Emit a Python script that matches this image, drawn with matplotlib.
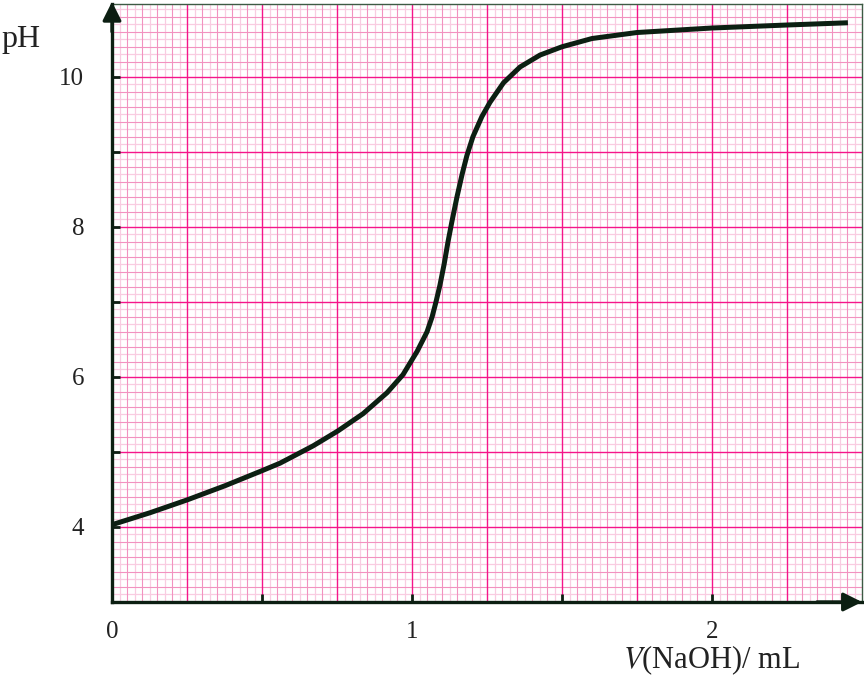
import matplotlib
matplotlib.use("Agg")
import matplotlib.pyplot as plt
import numpy as np

# ── data ──────────────────────────────────────────────
v_naoh = [0.0, 0.127, 0.25, 0.377, 0.5, 0.56, 0.627, 0.67, 0.753, 0.837,
          0.917, 0.97, 1.017, 1.05, 1.067, 1.08, 1.093, 1.107, 1.12, 1.133,
          1.15, 1.167, 1.183, 1.203, 1.233, 1.26, 1.305, 1.36, 1.427, 1.5,
          1.6, 1.75, 2.0, 2.25, 2.453]
ph = [4.03, 4.19, 4.36, 4.55, 4.75, 4.85, 4.99, 5.08, 5.28, 5.51,
      5.79, 6.03, 6.34, 6.60, 6.80, 7.00, 7.22, 7.50, 7.80, 8.07,
      8.40, 8.70, 8.95, 9.20, 9.47, 9.66, 9.92, 10.13, 10.29, 10.40,
      10.51, 10.59, 10.65, 10.69, 10.72]

x_ticks = [0, 0.5, 1, 1.5, 2]
x_labels = ["0", "", "1", "", "2"]
y_ticks = [3, 4, 5, 6, 7, 8, 9, 10]
y_labels = ["", "4", "", "6", "", "8", "", "10"]

# ── colours ───────────────────────────────────────────
C_AXIS = "#0c1f12"
C_MAJOR = "#f5158a"
C_MINOR = "#f292c0"
C_LIGHT = "#f9cce1"
C_TEXT = "#222222"

plt.rcParams["font.family"] = ["Liberation Serif", "DejaVu Serif"]
plt.rcParams["mathtext.fontset"] = "stix"

fig = plt.figure(figsize=(8.64, 7.0), dpi=100)
ax = fig.add_axes([112 / 864, 98 / 700, 750 / 864, 598 / 700])
ax.set_xlim(0, 2.5)
ax.set_ylim(3, 10.97)

# graph paper
for gx in np.arange(0.025, 2.5, 0.025):
    k = round(gx / 0.025)
    if k % 10 == 0:
        ax.axvline(gx, color=C_MAJOR, lw=1.0, zorder=1)
    elif k % 2 == 0:
        ax.axvline(gx, color=C_MINOR, lw=0.8, zorder=0.8)
    else:
        ax.axvline(gx, color=C_LIGHT, lw=0.9, zorder=0.5)
for gy in np.arange(3.1, 11.0, 0.1):
    k = round((gy - 3) / 0.1)
    if k % 10 == 0:
        ax.axhline(gy, color=C_MAJOR, lw=1.0, zorder=1)
    elif k % 2 == 0:
        ax.axhline(gy, color=C_MINOR, lw=0.8, zorder=0.8)
    else:
        ax.axhline(gy, color=C_LIGHT, lw=0.9, zorder=0.5)

# curve
ax.plot(v_naoh, ph, color=C_AXIS, lw=3.6, solid_joinstyle="round",
        solid_capstyle="butt", zorder=5)

# axes
for side in ["left", "bottom"]:
    ax.spines[side].set_linewidth(2.4)
    ax.spines[side].set_color(C_AXIS)
    ax.spines[side].set_zorder(6)
for side in ["top", "right"]:
    ax.spines[side].set_linewidth(1.0)
    ax.spines[side].set_color("#3d5a44")

ax.set_xticks(x_ticks)
ax.set_xticklabels(x_labels)
ax.set_yticks(y_ticks)
ax.set_yticklabels(y_labels)
ax.tick_params(axis="both", direction="in", length=6, width=2,
               color=C_AXIS, labelsize=18, labelcolor=C_TEXT)
ax.tick_params(axis="y", pad=20)
ax.tick_params(axis="x", pad=14)

# arrow heads
ax.annotate("", xy=(0, 11.0), xytext=(0, 10.6), annotation_clip=False,
            arrowprops=dict(arrowstyle="-|>", color=C_AXIS, lw=2.4,
                            mutation_scale=28, shrinkA=0, shrinkB=0), zorder=7)
ax.annotate("", xy=(2.5, 3), xytext=(2.35, 3), annotation_clip=False,
            arrowprops=dict(arrowstyle="-|>", color=C_AXIS, lw=2.4,
                            mutation_scale=28, shrinkA=0, shrinkB=0), zorder=7)

fig.text(1 / 864, 1 - 40 / 700, "pH", fontsize=23, color=C_TEXT,
         ha="left", va="center")
fig.text(712 / 864, 1 - 660 / 700, r"$V$(NaOH)/ mL", fontsize=22,
         color=C_TEXT, ha="center", va="center")

fig.savefig("out.png", dpi=100)
